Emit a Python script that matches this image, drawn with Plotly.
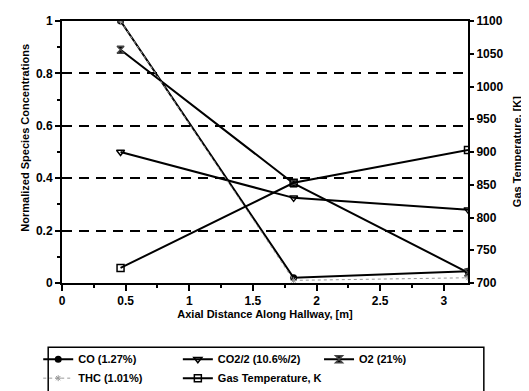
import plotly.graph_objects as go

# Data
distance = [0.46, 1.82, 3.19]
co = [1.0, 0.02, 0.045]
co2_half = [0.50, 0.325, 0.28]
o2 = [0.89, 0.38, 0.04]
thc = [1.0, 0.01, 0.02]
gas_temp = [723, 853, 903]

x_ticks = [0, 0.5, 1, 1.5, 2, 2.5, 3]
y_ticks = [0, 0.2, 0.4, 0.6, 0.8, 1]
y2_ticks = [700, 750, 800, 850, 900, 950, 1000, 1050, 1100]

FONT = "Liberation Sans, Arial, sans-serif"
fig = go.Figure()

fig.add_trace(go.Scatter(x=distance, y=co, name="CO (1.27%)", mode="lines+markers",
                         legend="legend",
                         line=dict(color="black", width=2),
                         marker=dict(symbol="circle", size=7, color="black")))
fig.add_trace(go.Scatter(x=distance, y=co2_half, name="CO2/2 (10.6%/2)", mode="lines+markers",
                         legend="legend2",
                         line=dict(color="black", width=2),
                         marker=dict(symbol="triangle-down-open", size=7, color="black", line=dict(width=1.5))))
fig.add_trace(go.Scatter(x=distance, y=o2, name="O2 (21%)", mode="lines+markers",
                         legend="legend3",
                         line=dict(color="black", width=2),
                         marker=dict(symbol="hourglass", size=7, color="black", line=dict(width=1.5))))
fig.add_trace(go.Scatter(x=distance, y=thc, name="THC (1.01%)", mode="lines+markers",
                         legend="legend",
                         line=dict(color="#999999", width=1, dash="dot"),
                         marker=dict(symbol="asterisk-open", size=5, color="#999999", line=dict(width=1))))
fig.add_trace(go.Scatter(x=distance, y=gas_temp, name="Gas Temperature, K", mode="lines+markers",
                         yaxis="y2", legend="legend2",
                         line=dict(color="black", width=2),
                         marker=dict(symbol="square-open", size=7, color="black", line=dict(width=1.5))))

# legend frame
fig.add_shape(type="rect", xref="paper", yref="paper",
              x0=-0.034, x1=1.039, y0=-0.62, y1=-0.245,
              line=dict(color="black", width=1.5), fillcolor="rgba(0,0,0,0)")

def leg(x):
    return dict(orientation="v", xref="container", yref="container",
                x=x, y=0.121, xanchor="left", yanchor="top", itemwidth=30,
                font=dict(size=11, family=FONT, weight="bold"),
                bgcolor="rgba(0,0,0,0)", tracegroupgap=0, traceorder="normal")

tick_font = dict(size=12, weight="bold")
title_font = dict(size=11, weight="bold", family=FONT, color="black")

fig.add_annotation(text="Normalized Species Concentrations", xref="paper", yref="paper",
                   x=-0.091, y=0.555, xanchor="center", yanchor="middle", textangle=-90,
                   showarrow=False, font=title_font)
fig.add_annotation(text="Gas Temperature, [K]", xref="paper", yref="paper",
                   x=1.121, y=0.5, xanchor="center", yanchor="middle", textangle=-90,
                   showarrow=False, font=title_font)

fig.update_layout(
    width=521, height=383,
    margin=dict(l=54, r=61, t=13, b=108, autoexpand=False),
    paper_bgcolor="white", plot_bgcolor="white",
    font=dict(family=FONT, size=11, color="black"),
    showlegend=True,
    legend=leg(0.058), legend2=leg(0.326), legend3=leg(0.597),
    xaxis=dict(range=[0, 3.19], tickvals=x_ticks, ticktext=[str(v) for v in x_ticks],
               automargin=False,
               showgrid=False, zeroline=False, showline=True, linecolor="black", linewidth=2,
               mirror=True, ticks="outside", ticklen=6, tickwidth=2, tickcolor="black",
               minor=dict(dtick=0.25, ticks="outside", ticklen=3, tickwidth=2, tickcolor="black"),
               tickfont=tick_font,
               title=dict(text="Axial Distance Along Hallway, [m]", standoff=1, font=title_font)),
    yaxis=dict(range=[0, 1], tickvals=y_ticks, ticktext=["0", "0.2", "0.4", "0.6", "0.8", "1"],
               automargin=False,
               showgrid=True, gridcolor="black", gridwidth=2, griddash="10px,7px",
               zeroline=False, showline=True, linecolor="black", linewidth=2,
               ticks="outside", ticklen=5, tickwidth=2, tickcolor="black",
               minor=dict(dtick=0.1, ticks="outside", ticklen=3, tickwidth=2, tickcolor="black"),
               tickfont=tick_font),
    yaxis2=dict(range=[700, 1100], tickvals=y2_ticks, overlaying="y", side="right",
                automargin=False,
                showgrid=False, zeroline=False, showline=True, linecolor="black", linewidth=2,
                ticks="outside", ticklen=4, tickwidth=2, tickcolor="black",
                tickfont=tick_font),
)

fig.write_html("out.html")
